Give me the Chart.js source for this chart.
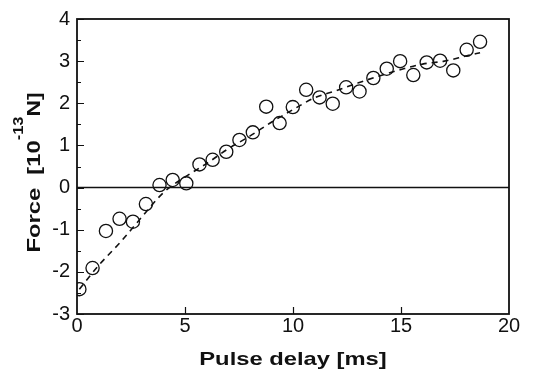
<!DOCTYPE html>
<html>
<head>
<meta charset="utf-8">
<script src="https://cdn.jsdelivr.net/npm/chart.js@4/dist/chart.umd.min.js"></script>
<style>
  html, body { margin: 0; padding: 0; background: #fff; }
  #wrap { width: 540px; height: 372px; position: relative; }
</style>
</head>
<body>
<div id="wrap"><canvas id="c"></canvas></div>
<script>
// measured force vs pulse delay (circles)
const delayMs = [0.11, 0.72, 1.34, 1.97, 2.59, 3.19, 3.82, 4.43, 5.06, 5.67, 6.28, 6.91, 7.52, 8.14, 8.76, 9.38, 9.99, 10.61, 11.23, 11.84, 12.46, 13.08, 13.72, 14.34, 14.96, 15.57, 16.19, 16.81, 17.42, 18.04, 18.66];
const forceVals = [-2.41, -1.91, -1.03, -0.74, -0.81, -0.39, 0.06, 0.18, 0.10, 0.55, 0.66, 0.85, 1.13, 1.31, 1.92, 1.53, 1.91, 2.32, 2.14, 1.99, 2.38, 2.28, 2.60, 2.82, 3.00, 2.67, 2.97, 3.01, 2.78, 3.27, 3.46];

// dashed fit curve
const fitX = [0.11, 1, 2, 3, 4, 5, 6, 7, 8, 9, 10, 11, 12, 13, 14, 15, 16, 17, 18, 18.66];
const fitY = [-2.41, -1.85, -1.3, -0.7, -0.12, 0.25, 0.57, 0.92, 1.22, 1.55, 1.85, 2.13, 2.3, 2.48, 2.65, 2.8, 2.93, 3.0, 3.12, 3.2];

const xTicks = [0, 5, 10, 15, 20];
const yTicks = [-3, -2, -1, 0, 1, 2, 3, 4];

const FONT = "'Liberation Sans', Arial, Helvetica, sans-serif";

const framePlugin = {
  id: "framePlugin",
  afterDraw(c) {
    const { ctx, chartArea, scales } = c;
    const { left, right, top, bottom } = chartArea;
    const x = scales.x, y = scales.y;
    ctx.save();
    ctx.strokeStyle = "#111";
    ctx.lineWidth = 1.8;
    ctx.strokeRect(left, top, right - left, bottom - top);

    // zero line
    const y0 = y.getPixelForValue(0);
    ctx.lineWidth = 1.6;
    ctx.beginPath();
    ctx.moveTo(left, y0);
    ctx.lineTo(right, y0);
    ctx.stroke();

    // inward ticks, left and bottom only
    ctx.lineWidth = 1.2;
    ctx.beginPath();
    for (let v = y.min; v <= y.max + 1e-9; v += 0.5) {
      const py = Math.round(y.getPixelForValue(v)) + 0.5;
      const len = Number.isInteger(v) ? 7 : 4;
      ctx.moveTo(left, py);
      ctx.lineTo(left + len, py);
    }
    xTicks.slice(1, -1).forEach(v => {
      const px = Math.round(x.getPixelForValue(v)) + 0.5;
      ctx.moveTo(px, bottom);
      ctx.lineTo(px, bottom - 7);
    });
    ctx.stroke();

    // x title (stretched a bit to match the wide original face)
    ctx.fillStyle = "#111";
    ctx.textBaseline = "alphabetic";
    ctx.font = "bold 19px " + FONT;
    const xt = "Pulse delay [ms]";
    const sx = 1.25;
    const xw = ctx.measureText(xt).width * sx;
    ctx.save();
    ctx.translate((left + right) / 2 - xw / 2, 365);
    ctx.scale(sx, 1);
    ctx.fillText(xt, 0, 0);
    ctx.restore();

    // y title with superscript
    const parts = [
      { t: "Force  [10", font: "bold 19px " + FONT, rise: 0, s: 1.25 },
      { t: "-13", font: "bold 15px " + FONT, rise: 17, s: 1.1 },
      { t: "N]", font: "bold 19px " + FONT, rise: 0, s: 1.2 }
    ];
    let total = 0;
    parts.forEach(p => { ctx.font = p.font; p.w = ctx.measureText(p.t).width * p.s; total += p.w; });
    ctx.save();
    ctx.translate(40, 172.5 + total / 2);
    ctx.rotate(-Math.PI / 2);
    let off = 0;
    parts.forEach(p => {
      ctx.save();
      ctx.font = p.font;
      ctx.translate(off, -p.rise);
      ctx.scale(p.s, 1);
      ctx.fillText(p.t, 0, 0);
      ctx.restore();
      off += p.w;
    });
    ctx.restore();

    ctx.restore();
  }
};

new Chart(document.getElementById("c"), {
  type: "scatter",
  data: {
    datasets: [
      {
        label: "data",
        data: delayMs.map((d, i) => ({ x: d, y: forceVals[i] })),
        pointStyle: "circle",
        pointRadius: 6.6,
        pointBorderWidth: 1.3,
        pointBackgroundColor: "rgba(0,0,0,0)",
        pointBorderColor: "#111",
        showLine: false
      },
      {
        label: "fit",
        data: fitX.map((d, i) => ({ x: d, y: fitY[i] })),
        showLine: true,
        pointRadius: 0,
        borderColor: "#111",
        borderWidth: 1.6,
        borderDash: [6, 5],
        cubicInterpolationMode: "monotone",
        fill: false
      }
    ]
  },
  options: {
    responsive: true,
    maintainAspectRatio: false,
    animation: false,
    layout: { padding: { left: 0, right: 31, top: 19, bottom: 0 } },
    plugins: { legend: { display: false }, tooltip: { enabled: false } },
    scales: {
      x: {
        type: "linear",
        min: 0,
        max: 20,
        afterBuildTicks(s) { s.ticks = xTicks.map(v => ({ value: v })); },
        afterFit(s) { s.height = 58; },
        grid: { display: false, drawTicks: false },
        border: { display: false },
        ticks: { color: "#111", padding: 0, font: { family: FONT, size: 20 }, maxRotation: 0 }
      },
      y: {
        type: "linear",
        min: -3,
        max: 4,
        afterBuildTicks(s) { s.ticks = yTicks.map(v => ({ value: v })); },
        afterFit(s) { s.width = 77; },
        grid: { display: false, drawTicks: false },
        border: { display: false },
        ticks: { color: "#111", padding: 7, font: { family: FONT, size: 20 } }
      }
    }
  },
  plugins: [framePlugin]
});
</script>
</body>
</html>
